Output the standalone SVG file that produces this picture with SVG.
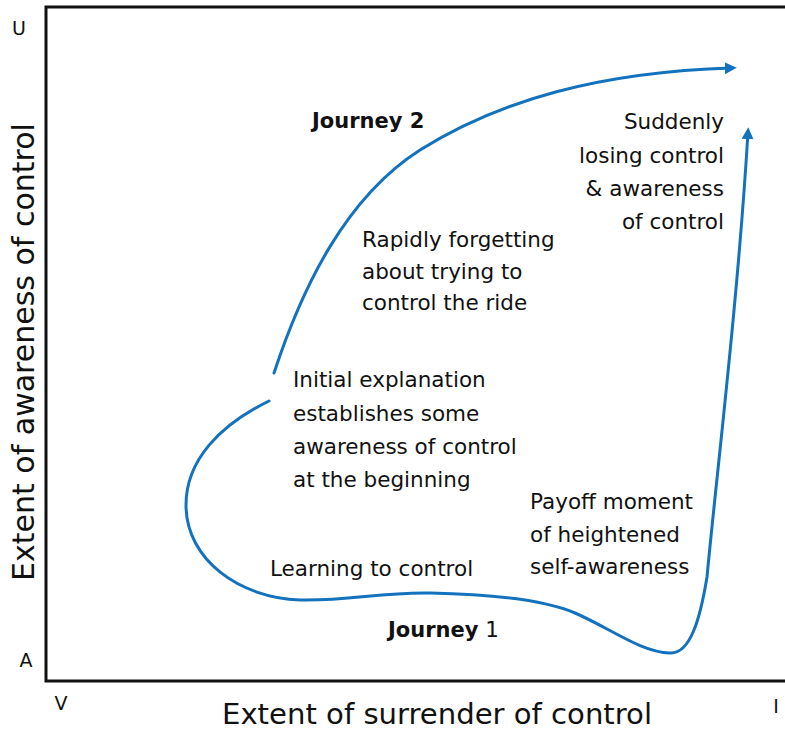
<svg xmlns="http://www.w3.org/2000/svg" width="785" height="732" viewBox="0 0 785 732">
<style>
.t{font-family:"DejaVu Sans","Liberation Sans",sans-serif;font-size:21.5px;fill:#111}
.b{font-weight:bold;font-size:21px}
.ax{font-family:"DejaVu Sans","Liberation Sans",sans-serif;font-size:19px;fill:#111}
.al{font-family:"DejaVu Sans","Liberation Sans",sans-serif;font-size:30px;fill:#111}
.curve{fill:none;stroke:#1372bd;stroke-width:3;stroke-linecap:round}
</style>
<defs>
<marker id="ah" viewBox="0 0 10 10" refX="6" refY="5" markerWidth="4" markerHeight="4" orient="auto" markerUnits="strokeWidth">
<path d="M0,0 L10,5 L0,10 z" fill="#1372bd"/>
</marker>
</defs>
<rect width="785" height="732" fill="#fff"/>
<g id="frame">
<path d="M800,7 H46 V681 H800" fill="none" stroke="#111" stroke-width="3"/>
</g>
<g id="axis-labels">
<text class="ax" x="19" y="35" text-anchor="middle">U</text>
<text class="ax" x="26" y="667" text-anchor="middle">A</text>
<text class="ax" x="61" y="710" text-anchor="middle">V</text>
<text class="ax" x="776" y="713" text-anchor="middle">I</text>
<text class="al" x="437" y="724" text-anchor="middle" style="font-size:28px" textLength="430" lengthAdjust="spacingAndGlyphs">Extent of surrender of control</text>
<text class="al" transform="translate(34,352) rotate(-90)" x="0" y="0" text-anchor="middle">Extent of awareness of control</text>
</g>
<g id="connectors">
<path id="journey1" class="curve" marker-end="url(#ah)" d="M269,401 C220,425 186,460 186,505 C186,560 240,598 300,600 C350,601 380,592 430,593 C480,594 540,598 575,613 C610,628 640,652 670,653 C690,654 700,620 707,577 C716,480 738,300 748,132"/>
<path id="journey2" class="curve" marker-end="url(#ah)" d="M274,373 C302,288 345,198 420,150 C500,100 600,72 732,68"/>
</g>
<g id="label-journey2">
<text class="t b" x="312" y="128">Journey 2</text>
</g>
<g id="label-journey1">
<text class="t" x="388" y="637"><tspan class="b">Journey</tspan> 1</text>
</g>
<g id="label-suddenly">
<text class="t" text-anchor="end" x="724" y="129">Suddenly</text>
<text class="t" text-anchor="end" x="724" y="163">losing control</text>
<text class="t" text-anchor="end" x="724" y="196">&amp; awareness</text>
<text class="t" text-anchor="end" x="724" y="229">of control</text>
</g>
<g id="label-rapidly">
<text class="t" x="362" y="247">Rapidly forgetting</text>
<text class="t" x="362" y="279">about trying to</text>
<text class="t" x="362" y="310">control the ride</text>
</g>
<g id="label-initial">
<text class="t" x="293" y="387">Initial explanation</text>
<text class="t" x="293" y="421">establishes some</text>
<text class="t" x="293" y="454">awareness of control</text>
<text class="t" x="293" y="487">at the beginning</text>
</g>
<g id="label-learning">
<text class="t" x="270" y="576">Learning to control</text>
</g>
<g id="label-payoff">
<text class="t" x="530" y="509">Payoff moment</text>
<text class="t" x="530" y="542">of heightened</text>
<text class="t" x="530" y="574">self-awareness</text>
</g>
</svg>
